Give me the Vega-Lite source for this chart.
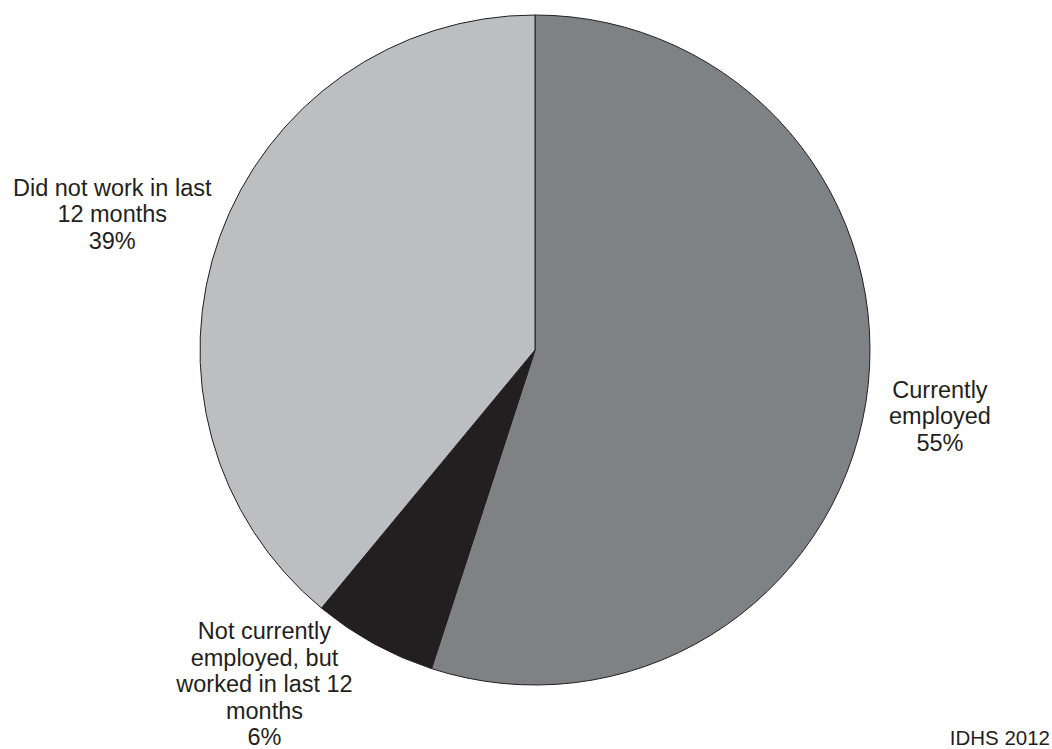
{
  "$schema": "https://vega.github.io/schema/vega-lite/v6.json",
  "width": 1034,
  "height": 700,
  "autosize": {"type": "none"},
  "padding": {"left": 18, "top": 0, "right": 0, "bottom": 49},
  "background": "white",
  "config": {"view": {"stroke": null}, "font": "Liberation Sans"},
  "title": {"text": "IDHS 2012", "orient": "bottom", "anchor": "end", "frame": "group", "fontSize": 20.5, "fontWeight": "normal", "font": "Liberation Sans", "color": "#231f20", "baseline": "top", "offset": -21, "dx": -2},
  "data": {"values": [
    {"cat": "Currently employed", "value": 55, "rank": 1, "label": "Currently\nemployed\n55%"},
    {"cat": "Not currently employed, but worked in last 12 months", "value": 6, "rank": 2, "label": "Not currently\nemployed, but\nworked in last 12\nmonths\n6%"},
    {"cat": "Did not work in last 12 months", "value": 39, "rank": 3, "label": "Did not work in last\n12 months\n39%"}
  ]},
  "layer": [
    {
      "mark": {"type": "arc", "outerRadius": 335, "stroke": "#231f20", "strokeWidth": 1},
      "encoding": {
        "theta": {"field": "value", "type": "quantitative", "stack": true},
        "order": {"field": "rank", "type": "quantitative"},
        "color": {"field": "cat", "type": "nominal", "legend": null,
          "scale": {"domain": ["Currently employed", "Not currently employed, but worked in last 12 months", "Did not work in last 12 months"], "range": ["#808184", "#231f20", "#bcbec0"]}}
      }
    },
    {
      "mark": {"type": "text", "radius": 410, "dy": -23.5, "fontSize": 23.5, "lineHeight": 26.5, "lineBreak": "\n", "align": "center", "baseline": "middle", "color": "#231f20"},
      "encoding": {
        "theta": {"field": "value", "type": "quantitative", "stack": true},
        "order": {"field": "rank", "type": "quantitative"},
        "text": {"condition": {"test": "datum.rank === 1", "field": "label", "type": "nominal"}, "value": ""}
      }
    },
    {
      "mark": {"type": "text", "radius": 410, "dx": -73, "dy": -77, "fontSize": 23.5, "lineHeight": 26.5, "lineBreak": "\n", "align": "center", "baseline": "middle", "color": "#231f20"},
      "encoding": {
        "theta": {"field": "value", "type": "quantitative", "stack": true},
        "order": {"field": "rank", "type": "quantitative"},
        "text": {"condition": {"test": "datum.rank === 2", "field": "label", "type": "nominal"}, "value": ""}
      }
    },
    {
      "mark": {"type": "text", "radius": 410, "dx": -37, "dy": -22.5, "fontSize": 23.5, "lineHeight": 26.5, "lineBreak": "\n", "align": "center", "baseline": "middle", "color": "#231f20"},
      "encoding": {
        "theta": {"field": "value", "type": "quantitative", "stack": true},
        "order": {"field": "rank", "type": "quantitative"},
        "text": {"condition": {"test": "datum.rank === 3", "field": "label", "type": "nominal"}, "value": ""}
      }
    }
  ]
}
